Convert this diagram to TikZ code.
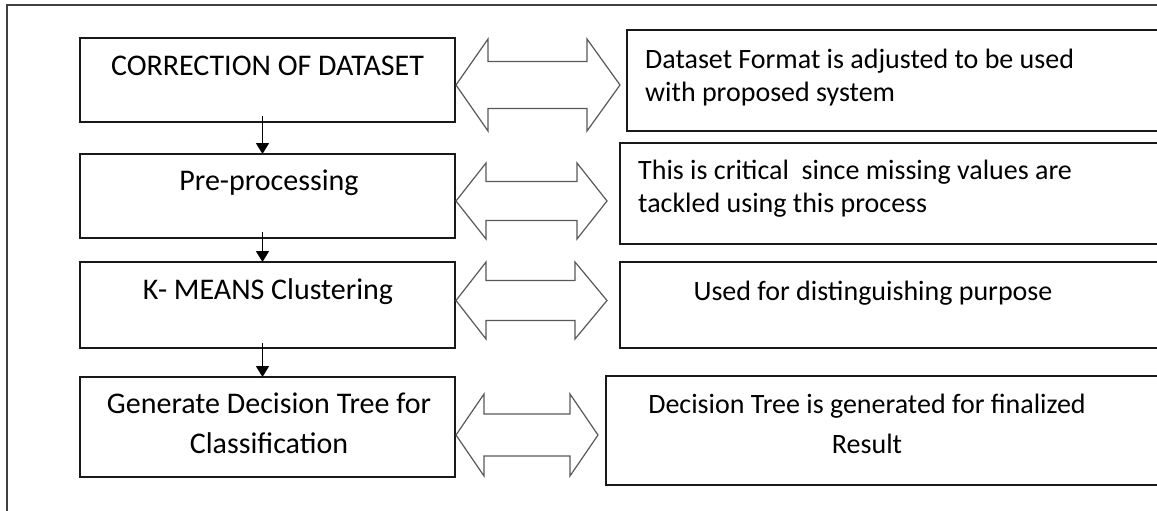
\documentclass[tikz,border=0pt]{standalone}
\usepackage{fontspec}
\setmainfont{Carlito}
\usetikzlibrary{arrows.meta}

% hollow two-headed block arrow:
% #1 left tip x, #2 left head base x, #3 right head base x, #4 right tip x,
% #5 centre y, #6 half head height, #7 half shaft height
\newcommand{\dblarrow}[7]{%
  \draw[barrow] (#1,#5) -- (#2,#5-#6) -- (#2,#5-#7) -- (#3,#5-#7) -- (#3,#5-#6)
    -- (#4,#5) -- (#3,#5+#6) -- (#3,#5+#7) -- (#2,#5+#7) -- (#2,#5+#6) -- cycle;}

\begin{document}
\begin{tikzpicture}[x=1pt,y=-1pt,
  box/.style={draw=black!90, line width=1.4pt, rectangle, inner sep=0pt,
    outer sep=0pt, anchor=north west},
  steptxt/.style={inner sep=0pt, font=\fontsize{30}{36}\selectfont, text=black},
  desctxt/.style={inner sep=0pt, font=\fontsize{28}{34}\selectfont, text=black},
  barrow/.style={draw=black!65, line width=1.2pt, fill=white, line join=miter},
  conn/.style={draw=black, line width=1.5pt,
    -{Triangle[width=13pt,length=11pt]}}]

\useasboundingbox (0,0) rectangle (1157,511);
\clip (0,0) rectangle (1157,511);
\fill[white] (0,0) rectangle (1157,511);

% outer frame (runs past the right and bottom edges)
\draw[draw=black!75, line width=2pt] (1180,5) -- (6.5,5) -- (6.5,530);

% process steps
\node[box, minimum width=375pt, minimum height=84pt]  (l1) at (80,38)  {};
\node[box, minimum width=375pt, minimum height=84pt]  (l2) at (80,154) {};
\node[box, minimum width=375pt, minimum height=86pt]  (l3) at (80,262) {};
\node[box, minimum width=375pt, minimum height=100pt] (l4) at (80,377) {};

\node[steptxt, anchor=base] (l1t) at (267.5,75)  {CORRECTION OF DATASET};
\node[steptxt, anchor=base] (l2t) at (269,190) {Pre-processing};
\node[steptxt, anchor=base] (l3t) at (268,299) {K- MEANS Clustering};
\node[steptxt, anchor=base] (l4t) at (269,413) {Generate Decision Tree for};
\node[steptxt, anchor=base] (l4u) at (269,453) {Classification};

% descriptions (boxes run past the right edge)
\node[box, minimum width=560pt, minimum height=101pt] (r1) at (627,30)  {};
\node[box, minimum width=560pt, minimum height=101pt] (r2) at (620,143) {};
\node[box, minimum width=560pt, minimum height=86pt]  (r3) at (620,262) {};
\node[box, minimum width=560pt, minimum height=109pt] (r4) at (606,376) {};

\node[desctxt, anchor=base west] (r1t) at (645,69)  {Dataset Format is adjusted to be used};
\node[desctxt, anchor=base west] (r1u) at (645,102) {with proposed system};
\node[desctxt, anchor=base west] (r2t) at (638,179) {This is critical\ \ since missing values are};
\node[desctxt, anchor=base west] (r2u) at (638,212) {tackled using this process};
\node[desctxt, anchor=base] (r3t) at (873,300) {Used for distinguishing purpose};
\node[desctxt, anchor=base] (r4t) at (867,413) {Decision Tree is generated for finalized};
\node[desctxt, anchor=base] (r4u) at (867,453) {Result};

% flow between steps
\draw[conn] ([xshift=-5pt,yshift=6pt]l1.south) -- ([xshift=-5pt]l2.north);
\draw[conn] ([xshift=-5pt,yshift=6pt]l2.south) -- ([xshift=-5pt]l3.north);
\draw[conn] ([xshift=-5pt,yshift=5pt]l3.south) -- ([xshift=-5pt]l4.north);

% two-way links between steps and descriptions
\dblarrow{456}{488}{587}{620}{85}{46}{23.5}
\dblarrow{456}{486}{577}{607}{201}{38}{19.5}
\dblarrow{456}{486}{575}{607}{300.5}{38.5}{20}
\dblarrow{456}{484}{570}{598}{435}{41}{21}

\end{tikzpicture}
\end{document}
